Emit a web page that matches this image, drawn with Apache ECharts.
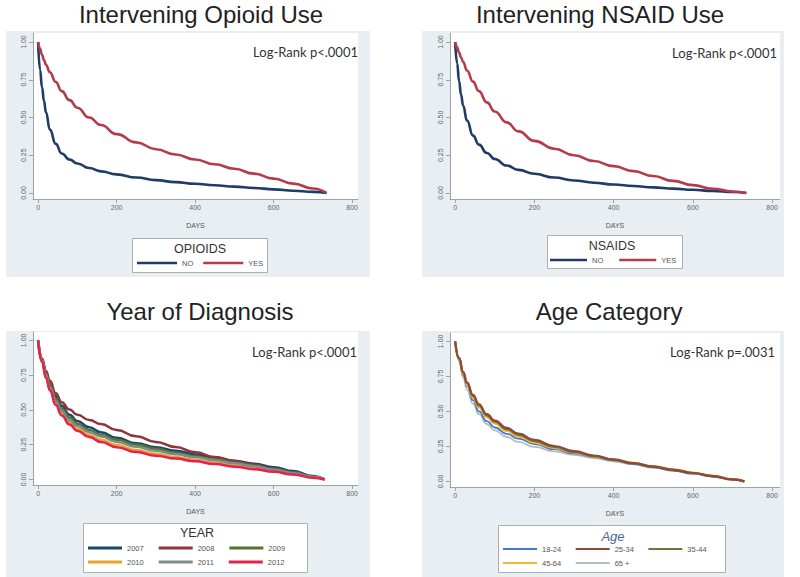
<!DOCTYPE html>
<html>
<head>
<meta charset="utf-8">
<script src="https://cdn.jsdelivr.net/npm/echarts@6/dist/echarts.min.js"></script>
<style>html,body{margin:0;padding:0;background:#fff}#c{width:800px;height:577px}#c svg path{shape-rendering:geometricPrecision}</style>
</head>
<body>
<div id="c"></div>
<script>
// ---- data ----
const xTicks = [0, 200, 400, 600, 800];
const yTicks = [0, 0.25, 0.5, 0.75, 1];

const drugDays = [0, 5, 10, 15, 20, 30, 45, 60, 80, 100, 130, 160, 200, 250, 300, 350, 400, 450, 500, 550, 600, 650, 700, 735];
const opioidNo  = [1, 0.815, 0.70, 0.61, 0.535, 0.42, 0.325, 0.262, 0.222, 0.195, 0.165, 0.143, 0.123, 0.102, 0.085, 0.072, 0.061, 0.051, 0.042, 0.033, 0.024, 0.015, 0.007, 0];
const opioidYes = [1, 0.955, 0.915, 0.88, 0.85, 0.80, 0.735, 0.675, 0.615, 0.565, 0.50, 0.45, 0.39, 0.335, 0.29, 0.255, 0.222, 0.19, 0.16, 0.128, 0.095, 0.062, 0.03, 0];
const nsaidNo   = [1, 0.86, 0.74, 0.65, 0.58, 0.48, 0.38, 0.32, 0.265, 0.225, 0.182, 0.153, 0.127, 0.102, 0.083, 0.068, 0.056, 0.046, 0.037, 0.029, 0.021, 0.013, 0.006, 0];
const nsaidYes  = [1, 0.965, 0.93, 0.898, 0.868, 0.812, 0.738, 0.675, 0.60, 0.54, 0.468, 0.408, 0.345, 0.293, 0.25, 0.212, 0.178, 0.145, 0.112, 0.08, 0.052, 0.028, 0.01, 0];

const catDays = [0, 10, 20, 30, 45, 60, 80, 100, 130, 160, 200, 250, 300, 350, 400, 450, 500, 550, 600, 650, 700, 730];
const yearNames = ['2007', '2008', '2009', '2010', '2011', '2012'];
const year2007 = [1, 0.86, 0.77, 0.69, 0.60, 0.53, 0.465, 0.42, 0.375, 0.34, 0.30, 0.26, 0.232, 0.207, 0.18, 0.157, 0.135, 0.113, 0.088, 0.06, 0.025, 0];
const year2008 = [1, 0.87, 0.78, 0.71, 0.62, 0.555, 0.502, 0.465, 0.428, 0.398, 0.355, 0.31, 0.27, 0.233, 0.196, 0.162, 0.132, 0.105, 0.078, 0.05, 0.02, 0];
const year2009 = [1, 0.86, 0.76, 0.68, 0.58, 0.51, 0.445, 0.40, 0.355, 0.32, 0.285, 0.25, 0.22, 0.192, 0.166, 0.142, 0.12, 0.098, 0.075, 0.05, 0.02, 0];
const year2010 = [1, 0.85, 0.74, 0.65, 0.55, 0.475, 0.41, 0.365, 0.32, 0.285, 0.247, 0.212, 0.185, 0.161, 0.14, 0.12, 0.10, 0.08, 0.06, 0.04, 0.015, 0];
const year2011 = [1, 0.855, 0.75, 0.66, 0.56, 0.49, 0.425, 0.385, 0.34, 0.308, 0.27, 0.235, 0.206, 0.181, 0.159, 0.138, 0.117, 0.095, 0.07, 0.045, 0.018, 0];
const year2012 = [1, 0.845, 0.73, 0.64, 0.535, 0.46, 0.395, 0.35, 0.305, 0.27, 0.232, 0.197, 0.171, 0.15, 0.13, 0.111, 0.092, 0.074, 0.055, 0.035, 0.012, 0];

const ageNames = ['18-24', '25-34', '35-44', '45-64', '65 +'];
const age18_24 = [1, 0.87, 0.76, 0.68, 0.58, 0.50, 0.43, 0.385, 0.34, 0.305, 0.267, 0.23, 0.20, 0.175, 0.15, 0.125, 0.10, 0.078, 0.055, 0.035, 0.012, 0];
const age25_34 = [1, 0.882, 0.785, 0.707, 0.618, 0.55, 0.48, 0.435, 0.382, 0.342, 0.296, 0.253, 0.216, 0.185, 0.157, 0.131, 0.106, 0.083, 0.06, 0.038, 0.014, 0];
const age35_44 = [1, 0.88, 0.778, 0.703, 0.61, 0.542, 0.472, 0.427, 0.373, 0.333, 0.288, 0.246, 0.211, 0.181, 0.154, 0.128, 0.105, 0.083, 0.06, 0.038, 0.014, 0];
const age45_64 = [1, 0.875, 0.77, 0.69, 0.60, 0.53, 0.46, 0.415, 0.362, 0.322, 0.278, 0.24, 0.207, 0.18, 0.155, 0.131, 0.108, 0.086, 0.063, 0.04, 0.015, 0];
const age65p   = [1, 0.86, 0.745, 0.655, 0.555, 0.48, 0.41, 0.365, 0.317, 0.282, 0.246, 0.215, 0.19, 0.166, 0.144, 0.121, 0.098, 0.077, 0.055, 0.035, 0.012, 0];

// ---- styling ----
const NAVY = '#1f3b66', RED = '#b43c4a';
const yearColors = ['#1a476f', '#90353b', '#55752f', '#eaa42c', '#7f8c8a', '#e3224e'];
const ageColors = ['#3f7bcc', '#8b4a3a', '#7a6f3c', '#f2b630', '#b6b9c8'];
const yearWidths = [2.5, 2.5, 2.5, 2.5, 2.5, 2.5];
const ageWidths = [1.8, 2.2, 2.2, 2.4, 1.8];

const zip = (xs, ys) => xs.map((x, i) => [x, ys[i]]);

function xAx(gi, max) {
  return {
    type: 'value', gridIndex: gi, min: -13, max: max,
    axisLine: { show: true, onZero: false, lineStyle: { color: '#9aa3a8', width: 1 } },
    axisTick: { show: true, customValues: xTicks, length: 4, lineStyle: { color: '#9aa3a8' } },
    axisLabel: { customValues: xTicks, fontSize: 7, color: '#666', margin: 5, fontFamily: 'Liberation Sans' },
    splitLine: { show: false },
    name: 'DAYS', nameLocation: 'middle', nameGap: 23,
    nameTextStyle: { fontSize: 7, color: '#555', fontFamily: 'Liberation Sans' }
  };
}
function yAx(gi) {
  return {
    type: 'value', gridIndex: gi, min: -0.04, max: 1.06,
    axisLine: { show: true, onZero: false, lineStyle: { color: '#9aa3a8', width: 1 } },
    axisTick: { show: true, customValues: yTicks, length: 4, lineStyle: { color: '#9aa3a8' } },
    axisLabel: { customValues: yTicks, fontSize: 7, color: '#666', margin: 6, rotate: 90,
      formatter: v => Number(v).toFixed(2), fontFamily: 'Liberation Sans' },
    splitLine: { show: false }
  };
}
function line(name, gi, xs, ys, color, width, z) {
  return {
    type: 'line', name: name, xAxisIndex: gi, yAxisIndex: gi,
    data: zip(xs, ys), showSymbol: false, symbol: 'none',
    smooth: 0.5, smoothMonotone: 'x', color: color, z: z || 2,
    lineStyle: { color: color, width: width }
  };
}
function legendRow(names, left, top, iw, ih, gap, tw, extra) {
  return Object.assign({
    data: names, left: left, top: top, orient: 'horizontal', icon: 'rect',
    itemWidth: iw, itemHeight: ih, itemGap: gap, padding: 0, selectedMode: false,
    textStyle: { fontSize: 7.5, color: '#555', width: tw, fontFamily: 'Liberation Sans', padding: [0, 0, 0, 0] }
  }, extra || {});
}

const grids = [
  { left: 33, top: 33, width: 325, height: 166 },
  { left: 450, top: 33, width: 330, height: 166 },
  { left: 33, top: 332, width: 325, height: 153 },
  { left: 450, top: 333, width: 330, height: 154 }
].map(g => Object.assign(g, { show: true, backgroundColor: '#ffffff', borderWidth: 0, containLabel: false }));

const series = [
  line('NO', 0, drugDays, opioidNo, NAVY, 2.6),
  line('YES', 0, drugDays, opioidYes, RED, 2.6),
  line('NO', 1, drugDays, nsaidNo, NAVY, 2.6),
  line('YES', 1, drugDays, nsaidYes, RED, 2.6)
];
const yearData = [year2007, year2008, year2009, year2010, year2011, year2012];
yearNames.forEach((n, i) => series.push(line(n, 2, catDays, yearData[i], yearColors[i], yearWidths[i], 2 + i)));
const ageData = [age18_24, age25_34, age35_44, age45_64, age65p];
const ageOrder = [4, 0, 3, 2, 1];
ageOrder.forEach((i, k) => series.push(line(ageNames[i], 3, catDays, ageData[i], ageColors[i], ageWidths[i], 2 + k)));

const BG = '#e8eef1';
function txt(x, y, s, size, opts) {
  return Object.assign({ type: 'text', x: x, y: y, z: 20,
    style: Object.assign({ text: s, fontSize: size, fontFamily: 'Liberation Sans', fill: '#222',
      textAlign: 'center', textVerticalAlign: 'middle' }, (opts && opts.style) || {}) }, (opts && opts.el) || {});
}
function rect(x, y, w, h, fill, stroke, z) {
  return { type: 'rect', z: z, shape: { x: x, y: y, width: w, height: h },
    style: { fill: fill, stroke: stroke || null, lineWidth: stroke ? 1 : 0 } };
}

const graphic = [
  rect(6, 31, 364, 246, BG, null, -10),
  rect(422, 31, 362, 246, BG, null, -10),
  rect(6, 331, 364, 246, BG, null, -10),
  rect(422, 331, 362, 246, BG, null, -10),
  // legend boxes
  rect(132.5, 238.5, 135, 34, '#fff', '#a9b0b4', 1),
  rect(547.5, 235.5, 135, 33, '#fff', '#a9b0b4', 1),
  rect(83.5, 523.5, 224, 49, '#fff', '#a9b0b4', 1),
  rect(498.5, 525.5, 227, 47, '#fff', '#a9b0b4', 1),
  // titles
  txt(201, 14, 'Intervening Opioid Use', 24),
  txt(600, 14, 'Intervening NSAID Use', 24),
  txt(200, 311, 'Year of Diagnosis', 24),
  txt(609, 311, 'Age Category', 24),
  // log-rank
  txt(358, 52, 'Log-Rank p<.0001', 13, { style: { textAlign: 'right', fontFamily: 'Lato', fill: '#333' } }),
  txt(777, 53, 'Log-Rank p<.0001', 13, { style: { textAlign: 'right', fontFamily: 'Lato', fill: '#333' } }),
  txt(357, 352, 'Log-Rank p<.0001', 13, { style: { textAlign: 'right', fontFamily: 'Lato', fill: '#333' } }),
  txt(775, 352, 'Log-Rank p=.0031', 13, { style: { textAlign: 'right', fontFamily: 'Lato', fill: '#333' } }),
  // legend titles
  txt(200, 249, 'OPIOIDS', 12.5, { style: { fill: '#333' } }),
  txt(612, 246, 'NSAIDS', 12.5, { style: { fill: '#333' } }),
  txt(197, 533, 'YEAR', 12.5, { style: { fill: '#333' } }),
  txt(613, 536, 'Age', 13, { style: { fill: '#4a64a0', fontStyle: 'italic' } })
];

const legend = [
  legendRow(['NO', 'YES'], 137, 259, 40, 2.5, 10, 12),
  legendRow(['NO', 'YES'], 550, 256, 37, 2.5, 16, 14),
  legendRow(['2007', '2008', '2009'], 88, 544, 34, 3, 15, 22),
  legendRow(['2010', '2011', '2012'], 88, 558, 34, 3, 15, 22),
  legendRow(['18-24', '25-34', '35-44'], 503, 545, 34, 2, 14.5, 25),
  legendRow(['45-64', '65 +'], 503, 559, 34, 2, 14.5, 25)
];

const chart = echarts.init(document.getElementById('c'), null, { renderer: 'svg', width: 800, height: 577 });
chart.setOption({
  animation: false,
  backgroundColor: '#ffffff',
  grid: grids,
  xAxis: [xAx(0, 815), xAx(1, 820), xAx(2, 815), xAx(3, 820)],
  yAxis: [yAx(0), yAx(1), yAx(2), yAx(3)],
  legend: legend,
  graphic: graphic,
  series: series
});
</script>
</body>
</html>
